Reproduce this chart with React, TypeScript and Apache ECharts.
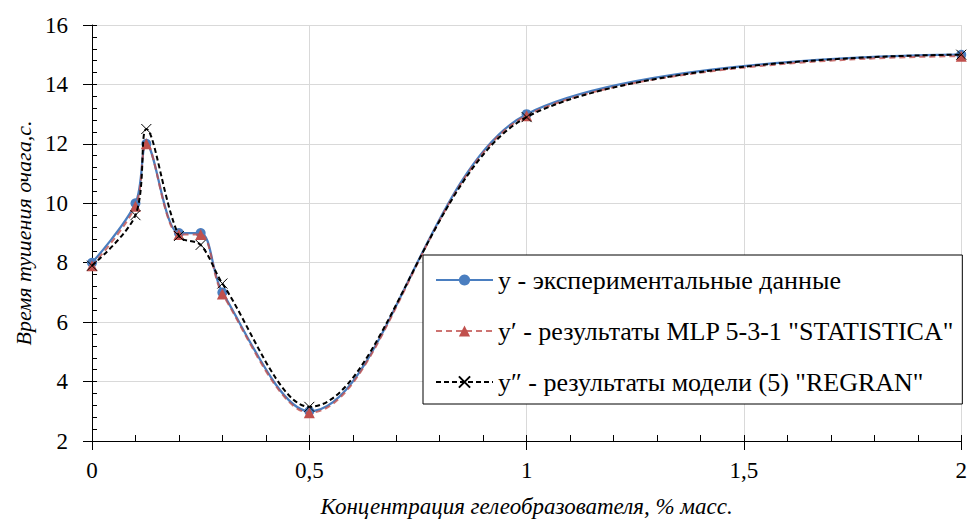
import React, { useEffect, useRef } from "react";
import * as echarts from "echarts";

const xValues = [0, 0.1, 0.125, 0.2, 0.25, 0.3, 0.5, 1, 2];
const yExperimental = [8, 10, 12, 9, 9, 7, 3, 13, 15];
const yMlp = [7.9, 9.9, 12.0, 8.95, 8.95, 6.95, 2.95, 12.95, 14.95];
const yRegran = [7.9, 9.6, 12.5, 8.9, 8.6, 7.3, 3.15, 12.9, 15.0];

const seriesNames = [
  "y - экспериментальные данные",
  "y\u2032 - результаты MLP 5-3-1 \"STATISTICA\"",
  "y\u2033 - результаты модели (5) \"REGRAN\"",
];

const xAxisTitle = "Концентрация гелеобразователя, % масс.";
const yAxisTitle = "Время тушения очага,с.";

const FONT = "Times New Roman";

function pairs(ys: number[]) {
  return xValues.map((x, i) => [x, ys[i]]);
}

export default function App() {
  const ref = useRef<HTMLDivElement>(null);
  useEffect(() => {
    if (!ref.current) return;
    const chart = echarts.init(ref.current, undefined, { renderer: "svg" });
    const gridLine = { show: true, lineStyle: { color: "#d9d9d9", width: 1 } };
    chart.setOption({
      animation: false,
      backgroundColor: "#fff",
      textStyle: { fontFamily: FONT },
      grid: { left: 92, right: 8, top: 25, bottom: 79, containLabel: false },
      xAxis: [
        {
          type: "value",
          min: 0,
          max: 2,
          interval: 0.5,
          position: "bottom",
          axisLine: { show: true, onZero: false, lineStyle: { color: "#000", width: 1 } },
          axisTick: { show: true, inside: true, length: 6, lineStyle: { color: "#000" } },
          minorTick: { show: true, splitNumber: 5, length: 6, lineStyle: { color: "#000" } },
          splitLine: gridLine,
          axisLabel: {
            show: true,
            margin: 18,
            fontFamily: FONT,
            fontSize: 23,
            color: "#000",
            formatter: (v: number) => String(v).replace(".", ","),
          },
          name: xAxisTitle,
          nameLocation: "middle",
          nameGap: 54,
          nameTextStyle: { fontFamily: FONT, fontSize: 23, fontStyle: "italic", color: "#000" },
        },
        {
          type: "value",
          min: 0,
          max: 2,
          interval: 0.5,
          position: "bottom",
          axisLine: { show: false, onZero: false },
          axisTick: { show: true, inside: false, length: 9, lineStyle: { color: "#000" } },
          axisLabel: { show: false },
          splitLine: { show: false },
        },
      ],
      yAxis: [
        {
          type: "value",
          min: 2,
          max: 16,
          interval: 2,
          position: "left",
          axisLine: { show: true, onZero: false, lineStyle: { color: "#000", width: 1 } },
          axisTick: { show: true, inside: true, length: 5, lineStyle: { color: "#000" } },
          minorTick: { show: true, splitNumber: 5, length: 5, lineStyle: { color: "#000" } },
          splitLine: gridLine,
          axisLabel: { show: true, margin: 24, fontFamily: FONT, fontSize: 23, color: "#000" },
          name: yAxisTitle,
          nameLocation: "middle",
          nameGap: 56,
          nameTextStyle: { fontFamily: FONT, fontSize: 22, fontStyle: "italic", color: "#000" },
        },
        {
          type: "value",
          min: 2,
          max: 16,
          interval: 2,
          position: "left",
          axisLine: { show: false, onZero: false },
          axisTick: { show: true, inside: false, length: 9, lineStyle: { color: "#000" } },
          axisLabel: { show: false },
          splitLine: { show: false },
        },
      ],
      legend: {
        show: true,
        orient: "vertical",
        left: 423,
        top: 255,
        backgroundColor: "#fff",
        borderColor: "#000",
        borderWidth: 1,
        padding: [12, 8, 9, 12],
        itemGap: 25,
        itemWidth: 57,
        itemHeight: 14,
        textStyle: { fontFamily: FONT, fontSize: 26, color: "#000", lineHeight: 26 },
        data: seriesNames,
      },
      series: [
        {
          name: seriesNames[0],
          type: "line",
          data: pairs(yExperimental),
          smooth: 0.33,
          symbol: "circle",
          symbolSize: 10,
          lineStyle: { color: "#4A7EC0", width: 2.25 },
          itemStyle: { color: "#4A7EC0" },
          z: 2,
        },
        {
          name: seriesNames[1],
          type: "line",
          data: pairs(yMlp),
          smooth: 0.33,
          symbol: "triangle",
          symbolSize: 11,
          lineStyle: { color: "#C0504D", width: 2, type: [6, 4], opacity: 0.8 },
          itemStyle: { color: "#C0504D" },
          z: 3,
        },
        {
          name: seriesNames[2],
          type: "line",
          data: pairs(yRegran),
          smooth: 0.33,
          symbol: "path://M0 0L10 10M10 0L0 10",
          symbolSize: 10,
          lineStyle: { color: "#000", width: 2, type: [5, 3] },
          itemStyle: { color: "none", borderColor: "#000", borderWidth: 1 },
          z: 4,
        },
      ],
    });
    return () => chart.dispose();
  }, []);
  return (
    <div
      ref={ref}
      style={{ position: "fixed", left: 0, top: 0, width: 970, height: 523 }}
    />
  );
}
